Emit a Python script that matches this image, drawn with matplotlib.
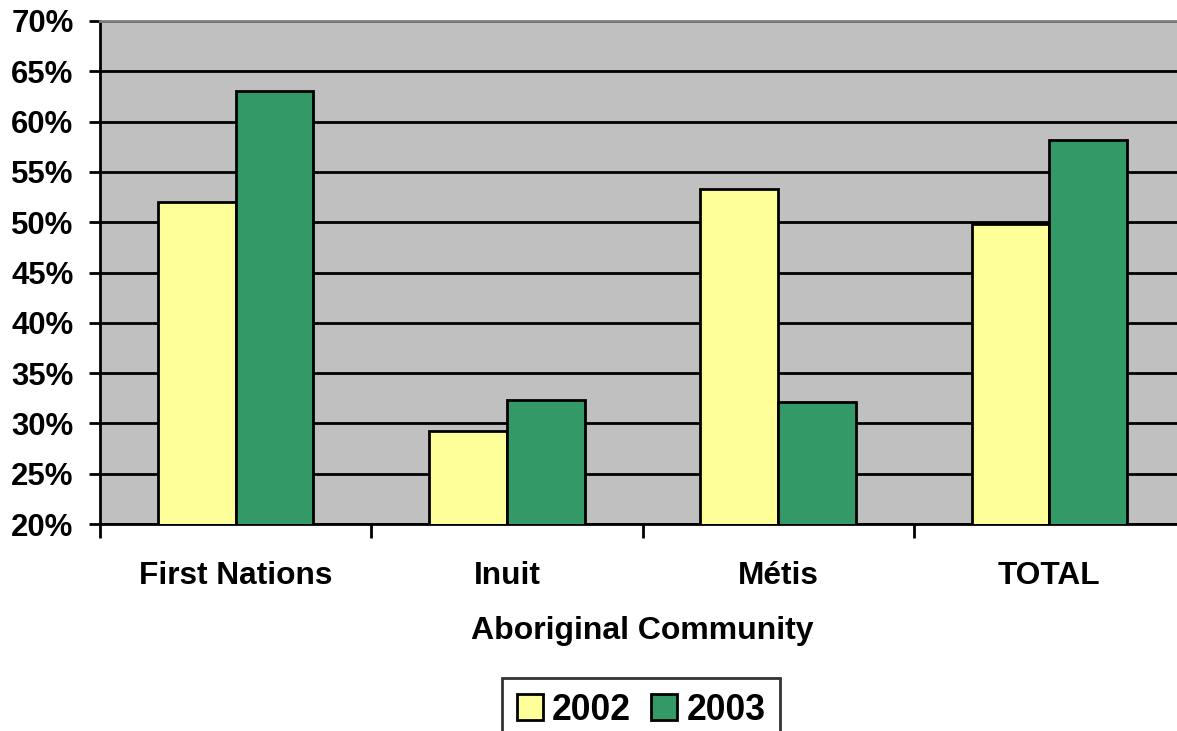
import matplotlib.pyplot as plt
import numpy as np
from matplotlib.ticker import FuncFormatter

plt.rcParams['font.family'] = ['Liberation Sans', 'DejaVu Sans']
plt.rcParams['font.weight'] = 'bold'

communities = ['First Nations', 'Inuit', 'Métis', 'TOTAL']
rate_2002 = [52.0, 29.2, 53.3, 49.8]
rate_2003 = [63.0, 32.3, 32.1, 58.2]

fig = plt.figure(figsize=(11.77, 7.31), dpi=100)
ax = fig.add_axes([100 / 1177, 207 / 731, 1085 / 1177, 503 / 731])
ax.set_facecolor('#C0C0C0')

x = np.arange(len(communities))
w = 0.287
ax.bar(x - w / 2, rate_2002, w, bottom=0, color='#FFFF99', edgecolor='black',
       linewidth=2, label='2002', zorder=3)
ax.bar(x + w / 2, rate_2003, w, bottom=0, color='#339966', edgecolor='black',
       linewidth=2, label='2003', zorder=3)

ax.set_ylim(20, 70)
ax.set_xlim(-0.5, len(communities) - 0.5)
ax.set_yticks(range(20, 71, 5))
ax.yaxis.set_major_formatter(FuncFormatter(lambda v, p: f'{v:.0f}%'))
ax.yaxis.grid(True, color='black', linewidth=2, zorder=1)
ax.set_axisbelow(True)

# category names sit between the boundary ticks
ax.set_xticks(np.arange(-0.5, len(communities), 1.0))
ax.set_xticklabels([])
ax.set_xticks(x, minor=True)
ax.set_xticklabels(communities, minor=True, fontsize=22.8, fontweight='bold')
ax.tick_params(axis='x', which='minor', length=0, pad=27)
ax.tick_params(axis='x', which='major', length=10, width=2)
ax.tick_params(axis='y', length=8, width=2, labelsize=22.4, pad=11)
for lbl in ax.get_yticklabels():
    lbl.set_fontweight('bold')

ax.set_xlabel('Aboriginal Community', fontsize=23, fontweight='bold', labelpad=18)

ax.spines['left'].set_linewidth(2)
ax.spines['bottom'].set_linewidth(2)
ax.spines['top'].set_color('#808080')
ax.spines['top'].set_linewidth(2)
ax.spines['right'].set_visible(False)

leg = fig.legend(loc='center', bbox_to_anchor=(641 / 1177, 1 - 710 / 731), ncol=2,
                 prop={'size': 25.6, 'weight': 'bold'}, frameon=True, fancybox=False,
                 edgecolor='black', handlelength=0.75, handleheight=0.75,
                 handletextpad=0.25, columnspacing=0.55, borderpad=0.4)
leg.get_frame().set_linewidth(2)

fig.savefig('out.png', dpi=100)
